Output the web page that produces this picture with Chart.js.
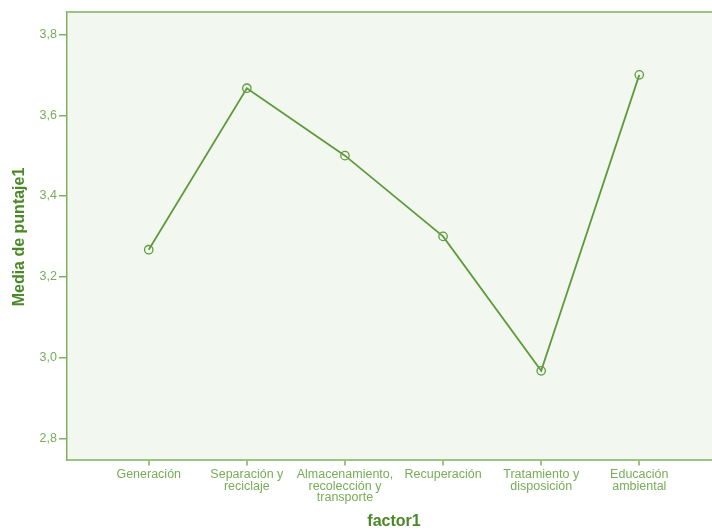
<!DOCTYPE html>
<html><head><meta charset="utf-8">
<script src="https://cdn.jsdelivr.net/npm/chart.js@4"></script>
<style>html,body{margin:0;padding:0;background:#fff}canvas{display:block}</style>
</head><body>
<canvas id="c" width="712" height="531"></canvas>
<script>
const categories = ["Generación", "Separación y reciclaje", "Almacenamiento, recolección y transporte", "Recuperación", "Tratamiento y disposición", "Educación ambiental"];
const categoryLines = [["Generación"], ["Separación y", "reciclaje"], ["Almacenamiento,", "recolección y", "transporte"], ["Recuperación"], ["Tratamiento y", "disposición"], ["Educación", "ambiental"]];
const meanScore = [3.267, 3.667, 3.5, 3.3, 2.967, 3.7];
const yTicks = [2.8, 3.0, 3.2, 3.4, 3.6, 3.8];
const xTitle = "factor1";
const yTitle = "Media de puntaje1";

const BG = '#F2F7F0', LINE = '#5F9B3D', TICK = '#78AC58', TITLE = '#4A8828', FRAME = '#9CC585', AXIS = '#80B062';
const FONT = '"Liberation Sans", Arial, sans-serif';

const frame = {
  id: 'frame',
  beforeDraw(chart) {
    const {ctx, chartArea: a} = chart;
    ctx.save();
    ctx.fillStyle = BG;
    ctx.fillRect(a.left, a.top, a.right - a.left, a.bottom - a.top);
    ctx.restore();
  },
  afterDraw(chart) {
    const {ctx, chartArea: a} = chart;
    ctx.save();
    ctx.strokeStyle = FRAME; ctx.lineWidth = 2;
    ctx.beginPath(); ctx.moveTo(a.left, a.top); ctx.lineTo(a.right, a.top); ctx.stroke();
    ctx.fillStyle = TITLE;
    ctx.font = 'bold 16px ' + FONT;
    ctx.textAlign = 'center'; ctx.textBaseline = 'middle';
    ctx.fillText(xTitle, 394, 522);
    ctx.translate(20, 237); ctx.rotate(-Math.PI / 2);
    ctx.fillText(yTitle, 0, 0);
    ctx.restore();
  }
};

new Chart(document.getElementById('c'), {
  type: 'line',
  data: {
    datasets: [{
      data: meanScore.map((v, i) => ({x: i, y: v})),
      borderColor: LINE, borderWidth: 1.8,
      pointRadius: 4.2, pointBorderWidth: 1.3, pointBackgroundColor: 'rgba(0,0,0,0)', pointBorderColor: LINE,
      tension: 0
    }]
  },
  options: {
    responsive: false, animation: false, devicePixelRatio: 1,
    layout: {autoPadding: false, padding: {top: 12, left: 0, right: 0, bottom: 0}},
    plugins: {legend: {display: false}, tooltip: {enabled: false}},
    scales: {
      x: {
        type: 'linear', min: -0.833, max: 5.741,
        afterBuildTicks(s) { s.ticks = categories.map((c, i) => ({value: i})); },
        afterFit(s) { s.height = 71.5; s.paddingRight = 0; s.paddingLeft = 0; },
        ticks: {
          autoSkip: false, maxRotation: 0, padding: 3, color: TICK,
          font: {family: FONT, size: 12.5, lineHeight: 0.94},
          callback: v => categoryLines[v]
        },
        grid: {drawOnChartArea: false, drawTicks: true, tickLength: 6, color: FRAME, lineWidth: 2},
        border: {display: true, color: FRAME, width: 2}
      },
      y: {
        min: 2.7475, max: 3.8557,
        afterBuildTicks(s) { s.ticks = yTicks.map(v => ({value: v})); },
        afterFit(s) { s.width = 67; s.paddingTop = 0; s.paddingBottom = 0; },
        ticks: {
          padding: 2, color: TICK,
          font: {family: FONT, size: 12.5},
          callback: v => Number(v).toFixed(1).replace('.', ',')
        },
        grid: {drawOnChartArea: false, drawTicks: true, tickLength: 8, color: AXIS, lineWidth: 1.5},
        border: {display: true, color: AXIS, width: 1.5}
      }
    }
  },
  plugins: [frame]
});
</script>
</body></html>
